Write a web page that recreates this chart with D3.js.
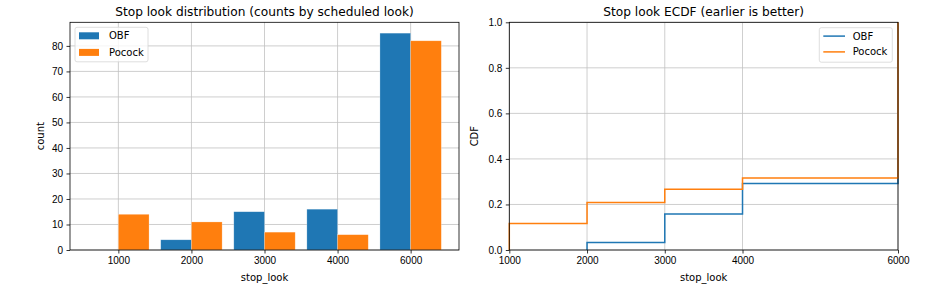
<!DOCTYPE html>
<html>
<head>
<meta charset="utf-8">
<script src="https://cdn.jsdelivr.net/npm/d3@7"></script>
<style>
  body { margin: 0; background: #fff; }
  svg { font-family: "DejaVu Sans", sans-serif; }
</style>
</head>
<body>
<svg id="chart" width="930" height="296"></svg>
<script>
// data
const looks = [1000, 2000, 3000, 4000, 6000];
const obfCounts = [0, 4, 15, 16, 85];
const pocockCounts = [14, 11, 7, 6, 82];
const seriesNames = ["OBF", "Pocock"];
const seriesColors = ["#1f77b4", "#ff7f0e"];
const countTicks = [0, 10, 20, 30, 40, 50, 60, 70, 80];
const cdfTicks = [0, 0.2, 0.4, 0.6, 0.8, 1.0];

const svg = d3.select("#chart");
const gridColor = "#c2c2c2";

function spines(g, w, h) {
    g.append("rect")
        .attr("x", 0).attr("y", 0)
        .attr("width", w).attr("height", h)
        .attr("fill", "none")
        .attr("stroke", "#000")
        .attr("stroke-width", 0.8);
}

function styleAxis(sel) {
    sel.selectAll(".domain").remove();
    sel.selectAll("line").attr("stroke", "#000").attr("stroke-width", 0.8);
    sel.selectAll("text").attr("font-size", 10).attr("fill", "#000");
}

// ---------- left: grouped bars ----------
{
    const left = 70, top = 22.3, w = 389, h = 227.7;
    const g = svg.append("g").attr("transform", `translate(${left},${top})`);
    const bw = 0.42;

    let span = looks.length - 1 + 2 * bw;
    let x = d3.scaleLinear()
        .domain([-bw - 0.05 * span, looks.length - 1 + bw + 0.05 * span])
        .range([0, w]);
    let ymax = d3.max(obfCounts.concat(pocockCounts)) * 1.05;
    let y = d3.scaleLinear().domain([0, ymax]).range([h, 0]);

    // grid
    g.append("g").selectAll("line").data(countTicks).join("line")
        .attr("x1", 0).attr("x2", w)
        .attr("y1", d => y(d)).attr("y2", d => y(d))
        .attr("stroke", gridColor).attr("stroke-width", 0.8);
    g.append("g").selectAll("line").data(looks.map((d, i) => i)).join("line")
        .attr("y1", 0).attr("y2", h)
        .attr("x1", d => x(d)).attr("x2", d => x(d))
        .attr("stroke", gridColor).attr("stroke-width", 0.8);

    [obfCounts, pocockCounts].forEach(function(vals, s) {
        let off = s === 0 ? -bw : 0;
        g.append("g").selectAll("rect").data(vals).join("rect")
            .attr("x", (d, i) => x(i + off))
            .attr("width", x(bw) - x(0))
            .attr("y", d => y(d))
            .attr("height", d => h - y(d))
            .attr("fill", seriesColors[s])
            .attr("stroke", "#fff")
            .attr("stroke-opacity", 0.4)
            .attr("stroke-width", 0.6);
    });

    let xa = g.append("g").attr("transform", `translate(0,${h})`)
        .call(d3.axisBottom(x).tickValues(looks.map((d, i) => i))
            .tickFormat(i => looks[i]).tickSize(3.5).tickPadding(3.5));
    styleAxis(xa);
    let ya = g.append("g")
        .call(d3.axisLeft(y).tickValues(countTicks).tickSize(3.5).tickPadding(3.5));
    styleAxis(ya);

    spines(g, w, h);

    g.append("text").attr("x", w / 2).attr("y", -6)
        .attr("text-anchor", "middle").attr("font-size", 12.2)
        .text("Stop look distribution (counts by scheduled look)");
    g.append("text").attr("x", w / 2).attr("y", h + 31)
        .attr("text-anchor", "middle").attr("font-size", 10)
        .text("stop_look");
    g.append("text")
        .attr("transform", `translate(-26,${h / 2}) rotate(-90)`)
        .attr("text-anchor", "middle").attr("font-size", 10)
        .text("count");

    // legend
    let lg = g.append("g").attr("transform", "translate(5,5)");
    lg.append("rect").attr("width", 73).attr("height", 34.5).attr("rx", 2)
        .attr("fill", "#fff").attr("fill-opacity", 0.8)
        .attr("stroke", "#d6d6d6").attr("stroke-width", 0.8);
    seriesNames.forEach(function(name, i) {
        lg.append("rect").attr("x", 4).attr("y", 5 + i * 16.6)
            .attr("width", 20).attr("height", 7)
            .attr("fill", seriesColors[i]);
        lg.append("text").attr("x", 34).attr("y", 8.5 + i * 16.6)
            .attr("dy", "0.35em").attr("font-size", 10).text(name);
    });
}

// ---------- right: ECDF ----------
{
    const left = 509.3, top = 22.3, w = 388.7, h = 227.7;
    const g = svg.append("g").attr("transform", `translate(${left},${top})`);

    let x = d3.scaleLinear().domain([looks[0], looks[looks.length - 1]]).range([0, w]);
    let y = d3.scaleLinear().domain([0, 1]).range([h, 0]);

    g.append("g").selectAll("line").data(cdfTicks).join("line")
        .attr("x1", 0).attr("x2", w)
        .attr("y1", d => y(d)).attr("y2", d => y(d))
        .attr("stroke", gridColor).attr("stroke-width", 0.8);
    g.append("g").selectAll("line").data(looks).join("line")
        .attr("y1", 0).attr("y2", h)
        .attr("x1", d => x(d)).attr("x2", d => x(d))
        .attr("stroke", gridColor).attr("stroke-width", 0.8);

    // step points of the empirical CDF, built from the counts
    function ecdfPoints(counts) {
        let total = d3.sum(counts);
        let pts = [];
        let cum = 0;
        let started = false;
        counts.forEach(function(c, i) {
            if (c === 0 && !started) return;
            if (!started) { pts.push([looks[i], 0]); started = true; }
            cum += c;
            pts.push([looks[i], cum / total]);
        });
        return pts;
    }

    let line = d3.line().x(d => x(d[0])).y(d => y(d[1])).curve(d3.curveStepAfter);
    [obfCounts, pocockCounts].forEach(function(counts, s) {
        g.append("path")
            .datum(ecdfPoints(counts))
            .attr("d", line)
            .attr("fill", "none")
            .attr("stroke", seriesColors[s])
            .attr("stroke-width", 1.5);
    });

    let xa = g.append("g").attr("transform", `translate(0,${h})`)
        .call(d3.axisBottom(x).tickValues(looks).tickFormat(d3.format("d"))
            .tickSize(3.5).tickPadding(3.5));
    styleAxis(xa);
    let ya = g.append("g")
        .call(d3.axisLeft(y).tickValues(cdfTicks).tickFormat(d3.format(".1f"))
            .tickSize(3.5).tickPadding(3.5));
    styleAxis(ya);

    spines(g, w, h);

    g.append("text").attr("x", w / 2).attr("y", -6)
        .attr("text-anchor", "middle").attr("font-size", 12.2)
        .text("Stop look ECDF (earlier is better)");
    g.append("text").attr("x", w / 2).attr("y", h + 31)
        .attr("text-anchor", "middle").attr("font-size", 10)
        .text("stop_look");
    g.append("text")
        .attr("transform", `translate(-31,${h / 2}) rotate(-90)`)
        .attr("text-anchor", "middle").attr("font-size", 10)
        .text("CDF");

    let lg = g.append("g").attr("transform", `translate(${w - 78.7},5.4)`);
    lg.append("rect").attr("width", 73).attr("height", 34.5).attr("rx", 2)
        .attr("fill", "#fff").attr("fill-opacity", 0.8)
        .attr("stroke", "#d6d6d6").attr("stroke-width", 0.8);
    seriesNames.forEach(function(name, i) {
        lg.append("line").attr("x1", 4).attr("x2", 25.7)
            .attr("y1", 8.4 + i * 15.8).attr("y2", 8.4 + i * 15.8)
            .attr("stroke", seriesColors[i]).attr("stroke-width", 1.5);
        lg.append("text").attr("x", 33.4).attr("y", 8.4 + i * 15.8)
            .attr("dy", "0.35em").attr("font-size", 10).text(name);
    });
}
</script>
</body>
</html>
